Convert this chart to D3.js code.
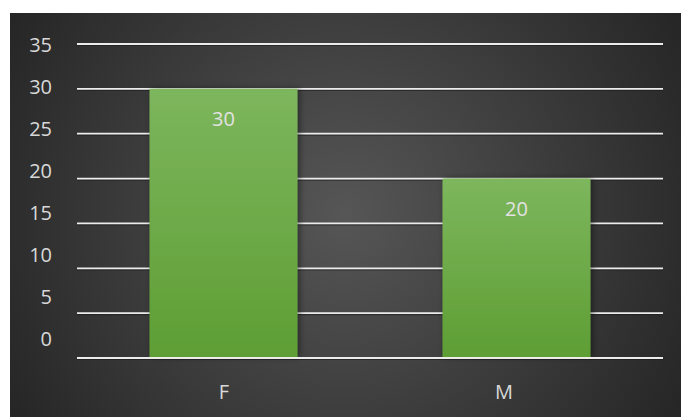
<!DOCTYPE html>
<html><head><meta charset="utf-8">
<script src="https://cdn.jsdelivr.net/npm/d3@7"></script>
<style>html,body{margin:0;padding:0;background:#fff;}svg{display:block;}</style>
</head><body>
<script>
const categories = ["F", "M"];
const values = [30, 20];
const yTicks = [0, 5, 10, 15, 20, 25, 30, 35];

const W = 681, H = 417;
const svg = d3.select("body").append("svg").attr("width", W).attr("height", H);
const defs = svg.append("defs");

const bg = defs.append("radialGradient").attr("id", "bg")
  .attr("gradientUnits", "userSpaceOnUse").attr("cx", 345).attr("cy", 215).attr("r", 420);
bg.append("stop").attr("offset", "0%").attr("stop-color", "#565656");
bg.append("stop").attr("offset", "100%").attr("stop-color", "#222222");

const bar = defs.append("linearGradient").attr("id", "bar").attr("x1", 0).attr("y1", 0).attr("x2", 0).attr("y2", 1);
bar.append("stop").attr("offset", "0%").attr("stop-color", "#7db65d");
bar.append("stop").attr("offset", "100%").attr("stop-color", "#5e9e34");

const sh = defs.append("filter").attr("id", "sh").attr("x", "-20%").attr("y", "-20%").attr("width", "140%").attr("height", "140%");
sh.append("feDropShadow").attr("dx", 2).attr("dy", 0).attr("stdDeviation", 3).attr("flood-color", "#000").attr("flood-opacity", 0.45);

svg.append("rect").attr("x", 10).attr("y", 13).attr("width", W - 10).attr("height", H - 13).attr("fill", "url(#bg)");

const x0 = 77, x1 = 663;
const y = d3.scaleLinear().domain([0, 35]).range([358, 44]);
const yLab = d3.scaleLinear().domain([0, 35]).range([338, 44]);
const x = d3.scaleBand().domain(categories).range([x0, x1]).paddingInner(0.495).paddingOuter(0.2475);
const xLab = d3.scalePoint().domain(categories).range([224, 504]);

const font = "'Segoe UI', 'Open Sans', 'Noto Sans', sans-serif";

// gridlines
const g = svg.append("g");
g.selectAll("line.s").data(yTicks).join("line")
  .attr("x1", x0).attr("x2", x1).attr("y1", d => y(d) + 1.5).attr("y2", d => y(d) + 1.5)
  .attr("stroke", "#1a1a1a").attr("stroke-opacity", 0.6).attr("stroke-width", 1.2);
g.selectAll("line.g").data(yTicks).join("line")
  .attr("x1", x0).attr("x2", x1).attr("y1", d => y(d)).attr("y2", d => y(d))
  .attr("stroke", "#ececec").attr("stroke-width", 1.8);

// y labels
svg.append("g").selectAll("text").data(yTicks).join("text")
  .attr("x", 52).attr("y", d => yLab(d)).attr("text-anchor", "end").attr("dominant-baseline", "central")
  .attr("fill", "#d9d9d9").style("font-family", font).style("font-size", "20px").text(d => d);

// bars
svg.append("g").selectAll("rect").data(values).join("rect")
  .attr("x", (d, i) => x(categories[i])).attr("width", x.bandwidth())
  .attr("y", d => y(d)).attr("height", d => y(0) - y(d) - 1)
  .attr("fill", "url(#bar)").attr("filter", "url(#sh)");

// zero line on top
svg.append("line").attr("x1", x0).attr("x2", x1).attr("y1", y(0)).attr("y2", y(0))
  .attr("stroke", "#ececec").attr("stroke-width", 1.8);

// value labels
svg.append("g").selectAll("text").data(values).join("text")
  .attr("x", (d, i) => x(categories[i]) + x.bandwidth() / 2).attr("y", d => y(d) + 30)
  .attr("text-anchor", "middle").attr("dominant-baseline", "central")
  .attr("fill", "#e2e2e2").style("font-family", font).style("font-size", "20px").text(d => d);

// category labels
svg.append("g").selectAll("text").data(categories).join("text")
  .attr("x", d => xLab(d)).attr("y", 391).attr("text-anchor", "middle").attr("dominant-baseline", "central")
  .attr("fill", "#d9d9d9").style("font-family", font).style("font-size", "20px").text(d => d);
</script>
</body></html>
